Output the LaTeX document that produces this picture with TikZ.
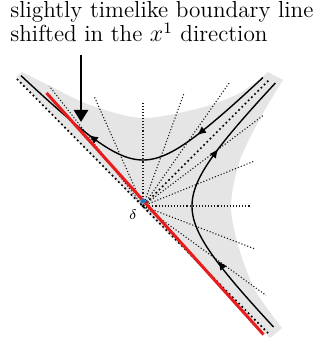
\documentclass[tikz,border=0pt]{standalone}
\usetikzlibrary{arrows.meta}
\definecolor{boundred}{RGB}{232,28,28}
\definecolor{pointblue}{RGB}{30,120,200}
\begin{document}
\begin{tikzpicture}[x=1.757cm,y=1.757cm,
  region/.style={fill=black!10},
  ray/.style={line width=0.55pt,black!90,dash pattern=on 0.55pt off 1pt},
  cone/.style={line width=0.85pt,dash pattern=on 0.85pt off 1.4pt},
  flow/.style={line width=0.7pt},
  flowtip/.style={line width=0.7pt,-{Latex[length=4.5pt,width=4pt]}}]
\useasboundingbox (-1.43,-1.38) rectangle (1.81,2.06);
\coordinate (O) at (0,0);
\fill[region] (-1.27,1.28) -- plot[smooth] coordinates {(-1.21,1.34)
  (-0.93,1.2) (-0.53,1.01) (-0.01,0.88) (0.57,0.98) (0.97,1.13) (1.25,1.34)}
  -- plot[smooth] coordinates {(1.4,1.26) (1.19,0.91) (0.97,0.46)
  (0.88,0.01) (0.95,-0.39) (1.12,-0.84) (1.39,-1.22)} -- (1.27,-1.32) -- cycle;
\foreach \ang/\len in {128/1.52,114/1.2,90/1.05,70/1.19,55/1.5,
  37/1.5,22/1.19,0/1.08,-21/1.2,-36/1.52}
  \draw[ray] (O) -- ++(\ang:\len);
\draw[cone] (O) -- (1.27,1.27);
\draw[cone] (-1.26,1.27) -- (1.26,-1.28);
\draw[flow] plot[domain=-1.22:1.2,samples=50,smooth]
  (\x,{sqrt(0.2116+\x*\x)});
\draw[flow] plot[domain=-1.21:1.23,samples=50,smooth]
  ({sqrt(0.2401+\x*\x)},\x);
\draw[flowtip] (0.58,0.74) -- (0.54,0.709);
\draw[flowtip] (-0.50,0.68) -- (-0.54,0.709);
\draw[flowtip] (0.781,-0.59) -- (0.752,-0.55);
\draw[flowtip] (0.722,0.53) -- (0.752,0.57);
\draw[boundred,line width=1.5pt] (-0.965,1.13) -- (1.205,-1.285);
\fill (O) circle (0.015);
\fill[pointblue] (0,0.05) circle (0.026);
\node[font=\fontsize{7.5}{9}\selectfont] (delta) at (-0.1,-0.09) {$\delta$};
\node[anchor=base west,inner sep=0,font=\fontsize{11.6}{14}\selectfont]
  (line1) at (-1.33,1.88) {slightly timelike boundary line};
\node[anchor=base west,inner sep=0,font=\fontsize{11.6}{14}\selectfont]
  (line2) at (-1.33,1.64) {shifted in the $x^1$ direction};
\coordinate (tip) at (-0.62,0.84);
\draw[line width=1.3pt,-{Triangle[length=6pt,width=7pt]}] (-0.62,1.51) -- (tip);
\end{tikzpicture}
\end{document}
